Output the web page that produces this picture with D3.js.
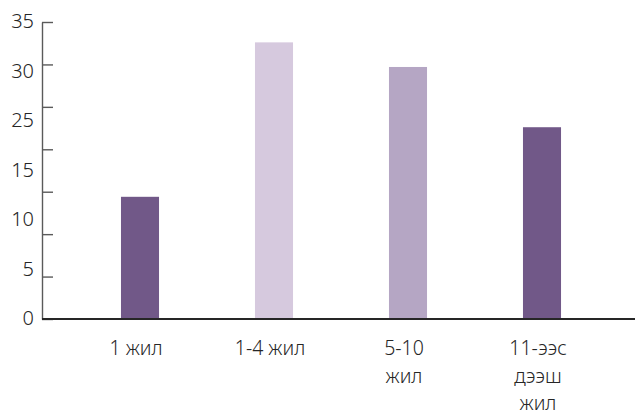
<!DOCTYPE html>
<html>
<head>
<meta charset="utf-8">
<script src="https://cdn.jsdelivr.net/npm/d3@7"></script>
<style>
  body { margin: 0; background: #fff; }
  text { font-family: "Noto Sans", "Open Sans", sans-serif; font-weight: 300; fill: #262626; }
</style>
</head>
<body>
<div class="chart"></div>
<script>
// data
const categories = ["1 жил", "1-4 жил", "5-10 жил", "11-ээс дээш жил"];
const categoryLines = [["1 жил"], ["1-4 жил"], ["5-10", "жил"], ["11-ээс", "дээш", "жил"]];
const values = [14.4, 32.6, 29.7, 22.6];
const colors = ["#715888", "#d6c9de", "#b5a6c4", "#715888"];
const tickValues = [0, 5, 10, 15, 20, 25, 30, 35];
// the printed labels skip 20, so they sit on their own even spacing
const tickLabels = ["35", "30", "25", "15", "10", "5", "0"];

const width = 635, height = 413;
const axisX = 42;

const svg = d3.select(".chart").append("svg")
    .attr("width", width)
    .attr("height", height);

// scales
const x = d3.scaleBand()
    .domain(categories)
    .range([73, 609])
    .paddingInner(0.716)
    .paddingOuter(0.358);

const y = d3.scaleLinear()
    .domain([0, 35])
    .range([319, 22]);

const yLabel = d3.scalePoint()
    .domain(tickLabels)
    .range([y(35), y(0)]);

// y axis: ticks point inward, no numbers on them
svg.append("g")
    .attr("transform", `translate(${axisX},0)`)
    .call(d3.axisRight(y).tickValues(tickValues).tickSize(11).tickSizeOuter(0).tickFormat(""))
    .call(g => g.selectAll("line, path").attr("stroke", "#5a5a5a").attr("stroke-width", 1.4));

// y labels
svg.append("g")
    .selectAll("text")
    .data(tickLabels)
    .join("text")
    .attr("x", 34)
    .attr("y", d => yLabel(d) - 1)
    .attr("dy", "0.36em")
    .attr("text-anchor", "end")
    .attr("font-size", 20)
    .text(d => d);

// bars
svg.append("g")
    .selectAll("rect")
    .data(values)
    .join("rect")
    .attr("x", (d, i) => x(categories[i]))
    .attr("width", x.bandwidth())
    .attr("y", d => y(d))
    .attr("height", d => y(0) - y(d))
    .attr("fill", (d, i) => colors[i]);

// x axis line
svg.append("line")
    .attr("x1", axisX)
    .attr("x2", width)
    .attr("y1", y(0))
    .attr("y2", y(0))
    .attr("stroke", "#262626")
    .attr("stroke-width", 2);

// x labels, wrapped like the original text boxes
const xLab = svg.append("g")
    .selectAll("text")
    .data(categories)
    .join("text")
    .attr("text-anchor", "middle")
    .attr("font-size", 19.5)
    .attr("transform", d => `translate(${x(d) + x.bandwidth() / 2 - 4}, 355)`);

xLab.selectAll("tspan")
    .data((d, i) => categoryLines[i])
    .join("tspan")
    .attr("x", 0)
    .attr("y", (d, i) => i * 27.5)
    .text(d => d);
</script>
</body>
</html>
